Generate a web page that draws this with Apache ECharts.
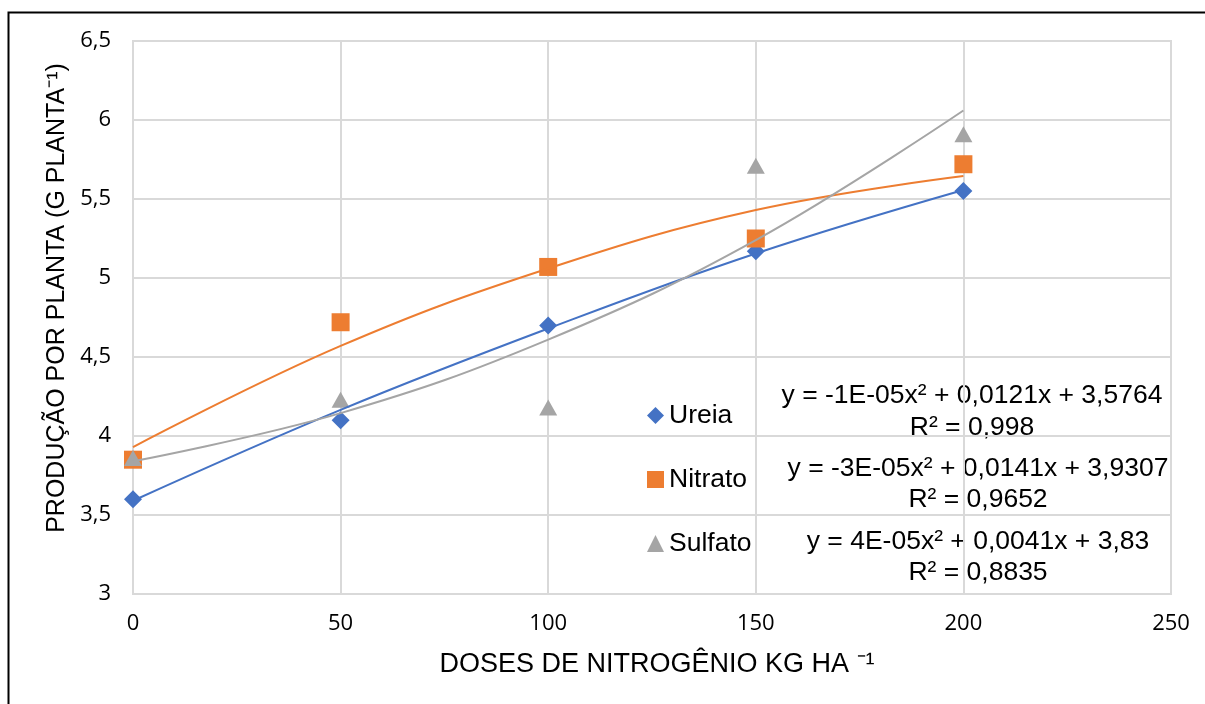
<!DOCTYPE html>
<html>
<head>
<meta charset="utf-8">
<script src="https://cdn.jsdelivr.net/npm/echarts@6/dist/echarts.min.js"></script>
<style>
  html, body { margin: 0; padding: 0; background: #fff; }
  #chart { width: 1205px; height: 704px; }
</style>
</head>
<body>
<div id="chart"></div>
<script>
  // doses de N (kg/ha)
  var doses = [0, 50, 100, 150, 200];
  var ureia = [3.60, 4.10, 4.70, 5.17, 5.55];
  var nitrato = [3.85, 4.72, 5.07, 5.25, 5.72];
  var sulfato = [3.86, 4.23, 4.18, 5.71, 5.91];

  // linhas de tendencia
  var ureiaTrend = [3.59, 4.165, 4.68, 5.155, 5.557];
  var nitratoTrend = [3.93, 4.57, 5.06, 5.43, 5.645];
  var sulfatoTrend = [3.84, 4.145, 4.61, 5.24, 6.06];

  var equacoes = [
    'y = -1E-05x² + 0,0121x + 3,5764',
    'y = -3E-05x² + 0,0141x + 3,9307',
    'y = 4E-05x² + 0,0041x + 3,83'
  ];
  var r2 = ['R² = 0,998', 'R² = 0,9652', 'R² = 0,8835'];

  var cores = ['#4472C4', '#ED7D31', '#A5A5A5'];

  function pares(ys) {
    return doses.map(function (d, i) { return [d, ys[i]]; });
  }

  var chart = echarts.init(document.getElementById('chart'));

  var fonte = '26.5px "Liberation Sans", Arial';
  var eqText = [];
  var eqPos = [[972, 396, 428], [978, 469, 500], [978, 542, 573]];
  for (var i = 0; i < 3; i++) {
    eqText.push({
      type: 'text', x: eqPos[i][0], y: eqPos[i][1],
      style: { text: equacoes[i], fill: '#000', font: fonte, align: 'center', verticalAlign: 'middle' }
    });
    eqText.push({
      type: 'text', x: eqPos[i][0], y: eqPos[i][2],
      style: { text: r2[i], fill: '#000', font: fonte, align: 'center', verticalAlign: 'middle' }
    });
  }

  var option = {
    animation: false,
    grid: { left: 133, right: 34, top: 41, bottom: 110, show: true, borderColor: '#d9d9d9', borderWidth: 2 },
    xAxis: {
      type: 'value', min: 0, max: 250, interval: 50,
      name: 'DOSES DE NITROGÊNIO KG HA ⁻¹',
      nameLocation: 'middle', nameGap: 57,
      nameTextStyle: { fontFamily: 'Liberation Sans', fontSize: 27, color: '#000', padding: [0, 0, 0, 10] },
      axisLine: { show: false },
      axisTick: { show: false },
      axisLabel: { fontFamily: 'Open Sans', fontSize: 22, color: '#000', margin: 19 },
      splitLine: { lineStyle: { color: '#d9d9d9', width: 2 } }
    },
    yAxis: {
      type: 'value', min: 3, max: 6.5, interval: 0.5,
      name: 'PRODUÇÃO POR PLANTA (G PLANTA⁻¹)',
      nameLocation: 'middle', nameGap: 62,
      nameTextStyle: { fontFamily: 'Liberation Sans', fontSize: 25, color: '#000', padding: [0, 0, 0, 39] },
      axisLine: { show: false },
      axisTick: { show: false },
      axisLabel: {
        fontFamily: 'Open Sans', fontSize: 22, color: '#000', margin: 22,
        formatter: function (v) { return String(v).replace('.', ','); }
      },
      splitLine: { lineStyle: { color: '#d9d9d9', width: 2 } }
    },
    legend: {
      orient: 'vertical', left: 642, top: 397,
      itemWidth: 17, itemHeight: 17, itemGap: 37,
      textStyle: { fontFamily: 'Liberation Sans', fontSize: 26.5, color: '#000', lineHeight: 26 },
      data: [
        { name: 'Ureia', icon: 'diamond' },
        { name: 'Nitrato', icon: 'rect' },
        { name: 'Sulfato', icon: 'triangle' }
      ]
    },
    series: [
      { name: 'Ureia', type: 'scatter', symbol: 'diamond', symbolSize: 18, data: pares(ureia), itemStyle: { color: cores[0], opacity: 1 } },
      { name: 'Nitrato', type: 'scatter', symbol: 'rect', symbolSize: 18, data: pares(nitrato), itemStyle: { color: cores[1], opacity: 1 } },
      { name: 'Sulfato', type: 'scatter', symbol: 'triangle', symbolSize: [18, 16], data: pares(sulfato), itemStyle: { color: cores[2], opacity: 1 } },
      { name: 'tend-ureia', type: 'line', smooth: 0.4, showSymbol: false, z: 5, data: pares(ureiaTrend), lineStyle: { color: cores[0], width: 2 } },
      { name: 'tend-nitrato', type: 'line', smooth: 0.4, showSymbol: false, z: 5, data: pares(nitratoTrend), lineStyle: { color: cores[1], width: 2 } },
      { name: 'tend-sulfato', type: 'line', smooth: 0.4, showSymbol: false, z: 5, data: pares(sulfatoTrend), lineStyle: { color: cores[2], width: 2 } }
    ],
    graphic: [
      { type: 'rect', shape: { x: 8.5, y: 12.5, width: 1300, height: 800 }, style: { fill: 'none', stroke: '#000', lineWidth: 2 }, silent: true }
    ].concat(eqText)
  };

  chart.setOption(option);
</script>
</body>
</html>
